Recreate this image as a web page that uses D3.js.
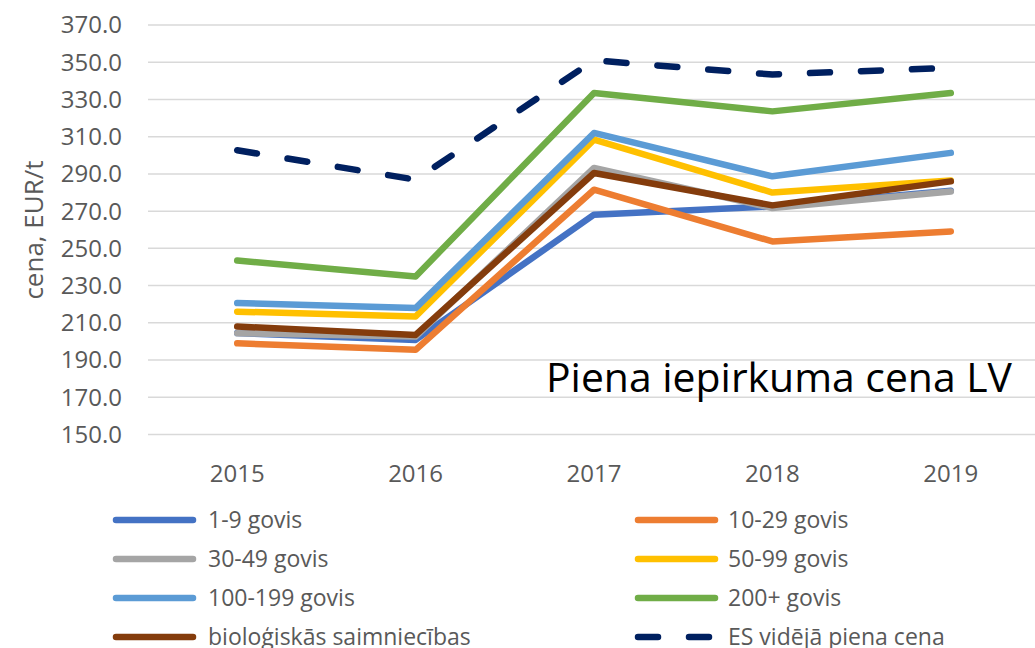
<!DOCTYPE html>
<html>
<head>
<meta charset="utf-8">
<script src="https://cdn.jsdelivr.net/npm/d3@7"></script>
<style>
  body { margin: 0; background: #fff; }
  svg { display: block; font-family: "Open Sans", sans-serif; }
</style>
</head>
<body>
<svg width="1035" height="648"></svg>
<script>
const years = ["2015", "2016", "2017", "2018", "2019"];
const yTicks = [150, 170, 190, 210, 230, 250, 270, 290, 310, 330, 350, 370];

// series (drawn in this order, later ones on top)
const govis1_9 = [204.5, 200.8, 268.1, 272.5, 281.0];
const govis10_29 = [199.0, 195.5, 281.5, 253.7, 259.1];
const govis30_49 = [204.4, 202.6, 293.2, 271.7, 280.6];
const govis50_99 = [216.0, 213.4, 308.4, 280.0, 286.5];
const govis100_199 = [220.6, 217.9, 312.0, 288.7, 301.3];
const govis200 = [243.5, 234.9, 333.5, 323.6, 333.5];
const biologiskas = [208.0, 203.5, 290.5, 273.1, 286.0];
const esVideja = [302.7, 286.9, 351.0, 343.4, 347.0];

const seriesNames = ["1-9 govis", "10-29 govis", "30-49 govis", "50-99 govis",
  "100-199 govis", "200+ govis", "bioloģiskās saimniecības", "ES vidējā piena cena"];
const seriesValues = [govis1_9, govis10_29, govis30_49, govis50_99,
  govis100_199, govis200, biologiskas, esVideja];
const seriesColors = ["#4472C4", "#ED7D31", "#A5A5A5", "#FFC000",
  "#5B9BD5", "#70AD47", "#843C0C", "#002060"];

const svg = d3.select("svg");
const margin = ({top: 25, left: 148, right: 1040, bottom: 434.5});

const x = d3.scaleBand()
    .domain(years)
    .range([margin.left, margin.right])
    .padding(0);
const cx = d => x(d) + x.bandwidth() / 2;

const y = d3.scaleLinear()
    .domain([150, 370])
    .range([margin.bottom, margin.top]);

// gridlines
svg.append("g")
  .selectAll("line")
  .data(yTicks)
  .join("line")
    .attr("x1", margin.left)
    .attr("x2", margin.right)
    .attr("y1", d => y(d))
    .attr("y2", d => y(d))
    .attr("stroke", "#D9D9D9")
    .attr("stroke-width", 1.5);

// y tick labels
svg.append("g")
  .selectAll("text")
  .data(yTicks)
  .join("text")
    .attr("x", 122)
    .attr("y", d => y(d))
    .attr("dy", "0.35em")
    .attr("text-anchor", "end")
    .attr("fill", "#595959")
    .style("font-size", "24px")
    .text(d => d.toFixed(1));

// x labels
svg.append("g")
  .selectAll("text")
  .data(years)
  .join("text")
    .attr("x", d => cx(d))
    .attr("y", 482)
    .attr("text-anchor", "middle")
    .attr("fill", "#595959")
    .style("font-size", "24px")
    .text(d => d);

// y axis title
svg.append("text")
    .attr("transform", "translate(34,230) rotate(-90)")
    .attr("text-anchor", "middle")
    .attr("dy", "0.35em")
    .attr("fill", "#595959")
    .style("font-size", "26px")
    .text("cena, EUR/t");

const line = d3.line()
    .x((d, i) => cx(years[i]))
    .y(d => y(d));

svg.append("g")
  .selectAll("path")
  .data(seriesValues)
  .join("path")
    .attr("d", d => line(d))
    .attr("fill", "none")
    .attr("stroke", (d, i) => seriesColors[i])
    .attr("stroke-width", 6.5)
    .attr("stroke-linejoin", "round")
    .attr("stroke-linecap", "round")
    .attr("stroke-dasharray", (d, i) => i === 7 ? "20,31" : null);

// big label inside plot
svg.append("text")
    .attr("x", 546)
    .attr("y", 392)
    .attr("textLength", 466)
    .attr("lengthAdjust", "spacingAndGlyphs")
    .attr("fill", "#000")
    .style("font-size", "41px")
    .text("Piena iepirkuma cena LV");

// legend, two columns
const legend = svg.append("g")
  .selectAll("g")
  .data(seriesNames)
  .join("g")
    .attr("transform", (d, i) => `translate(${i % 2 ? 638 : 116},${520 + Math.floor(i / 2) * 39})`);

legend.append("line")
    .attr("x1", 0)
    .attr("x2", 77)
    .attr("stroke", (d, i) => seriesColors[i])
    .attr("stroke-width", 6.5)
    .attr("stroke-linecap", "round")
    .attr("stroke-dasharray", (d, i) => i === 7 ? "20,31" : null);

legend.append("text")
    .attr("x", (d, i) => i % 2 ? 90 : 92)
    .attr("dy", "0.35em")
    .attr("fill", "#595959")
    .style("font-size", "23px")
    .text(d => d);
</script>
</body>
</html>
